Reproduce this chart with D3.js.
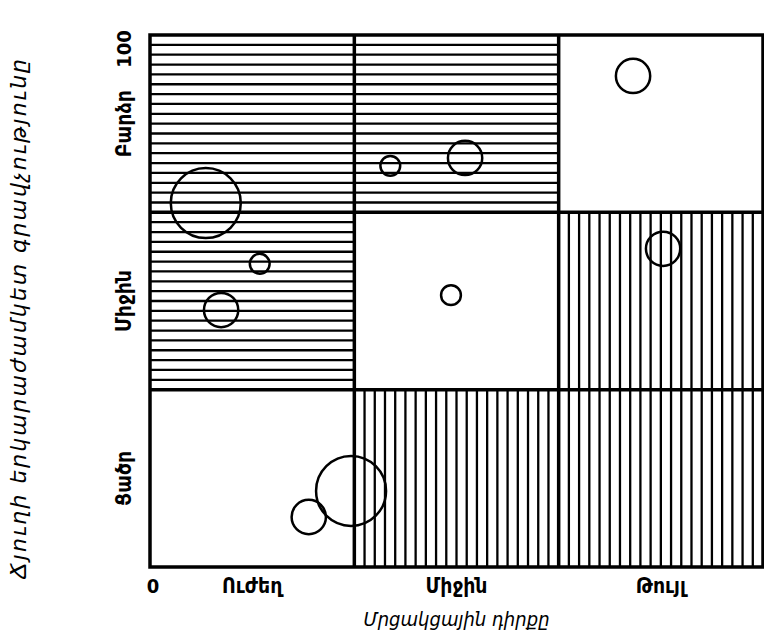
<!DOCTYPE html>
<html><head><meta charset="utf-8">
<script src="https://cdn.jsdelivr.net/npm/d3@7"></script>
<style>body{margin:0;background:#fff}</style>
</head><body><svg id="c" width="764" height="635"></svg>
<script>
const xCategories = ["Ուժեղ", "Միջին", "Թույլ"];
const yCategories = ["Ցածր", "Միջին", "Բարձր"];
const xTitle = "Մրցակցային դիրքը";
const yTitle = "Ճյուղի երկարաժամկետ գրավչությունը";
// cell hatching: rows from top (Բարձր) to bottom (Ցածր), cols left to right
const cellHatch = [
  ["h", "h", "none"],
  ["h", "none", "v"],
  ["none", "v", "v"]
];
const bubbleX = [9.1, 17.9, 11.6, 39.2, 51.4, 78.8, 83.7, 49.1, 32.8, 25.9];
const bubbleY = [68.4, 57.0, 48.3, 75.4, 76.9, 92.3, 59.8, 51.1, 14.3, 9.4];
const bubbleSize = [100, 8, 24, 8, 24, 24, 24, 8, 100, 24];

const svg = d3.select("#c");
const L = 150, R = 763, T = 35, B = 567;
const x = d3.scaleLinear().domain([0, 100]).range([L, R]);
const y = d3.scaleLinear().domain([0, 100]).range([B, T]);
const r = d3.scaleSqrt().domain([0, 100]).range([0, 35]);
const font = "'DejaVu Sans Condensed','DejaVu Sans',sans-serif";
const fontWide = "'DejaVu Sans',sans-serif";

const colEdges = [0, 100/3, 200/3, 100];
const rowEdges = [100, 200/3, 100/3, 0];
const g = svg.append("g");
cellHatch.forEach((row, ri) => row.forEach((h, ci) => {
  const x0 = x(colEdges[ci]), x1 = x(colEdges[ci+1]);
  const y0 = y(rowEdges[ri]), y1 = y(rowEdges[ri+1]);
  if (h === "h") {
    const n = Math.round((y1 - y0) / 9.8);
    d3.range(1, n).forEach(k => {
      const yy = y0 + (y1 - y0) * k / n;
      g.append("line").attr("x1", x0).attr("x2", x1).attr("y1", yy).attr("y2", yy)
        .attr("stroke", "#000").attr("stroke-width", 2.3);
    });
  } else if (h === "v") {
    const n = Math.round((x1 - x0) / 10.2);
    d3.range(1, n).forEach(k => {
      const xx = x0 + (x1 - x0) * k / n;
      g.append("line").attr("x1", xx).attr("x2", xx).attr("y1", y0).attr("y2", y1)
        .attr("stroke", "#000").attr("stroke-width", 2.3);
    });
  }
}));
// grid borders
[1, 2].forEach(i => {
  g.append("line").attr("x1", x(colEdges[i])).attr("x2", x(colEdges[i]))
    .attr("y1", y(100)).attr("y2", y(0)).attr("stroke", "#000").attr("stroke-width", 3.5);
  g.append("line").attr("x1", x(0)).attr("x2", x(100))
    .attr("y1", y(rowEdges[i])).attr("y2", y(rowEdges[i])).attr("stroke", "#000").attr("stroke-width", 3.5);
});
g.append("rect").attr("x", x(0)).attr("y", y(100)).attr("width", x(100) - x(0)).attr("height", y(0) - y(100))
  .attr("fill", "none").attr("stroke", "#000").attr("stroke-width", 3.5);

// bubbles (outline only)
svg.append("g").selectAll("circle").data(bubbleX).join("circle")
  .attr("cx", (d, i) => x(bubbleX[i])).attr("cy", (d, i) => y(bubbleY[i]))
  .attr("r", (d, i) => r(bubbleSize[i]))
  .attr("fill", "none").attr("stroke", "#000").attr("stroke-width", 2.5);

// x labels
const colCenters = [50/3, 50, 250/3];
xCategories.forEach((t, i) => {
  svg.append("text").attr("x", x(colCenters[i])).attr("y", 593).attr("text-anchor", "middle")
    .attr("font-family", font).attr("font-size", 21).attr("font-weight", "bold").text(t);
});
svg.append("text").attr("x", x(0) + 3).attr("y", 593).attr("text-anchor", "middle")
  .attr("font-family", font).attr("font-size", 20).attr("font-weight", "bold").text("0");
svg.append("text").attr("x", x(50)).attr("y", 626).attr("text-anchor", "middle")
  .attr("font-family", font).attr("font-size", 20).attr("font-style", "italic").text(xTitle);

// y labels
const rowCenters = [50/3, 50, 250/3];
yCategories.forEach((t, i) => {
  svg.append("text").attr("transform", `translate(131,${y(rowCenters[i])}) rotate(-90)`)
    .attr("text-anchor", "middle").attr("font-family", font).attr("font-size", 21)
    .attr("font-weight", "bold").text(t);
});
svg.append("text").attr("transform", `translate(131,49) rotate(-90)`)
  .attr("text-anchor", "middle").attr("font-family", font).attr("font-size", 20)
  .attr("font-weight", "bold").text("100");
svg.append("text").attr("transform", `translate(26,318) rotate(-90)`)
  .attr("text-anchor", "middle").attr("font-family", fontWide).attr("font-size", 22)
  .attr("letter-spacing", 2).attr("font-style", "italic").text(yTitle);
</script></body></html>
